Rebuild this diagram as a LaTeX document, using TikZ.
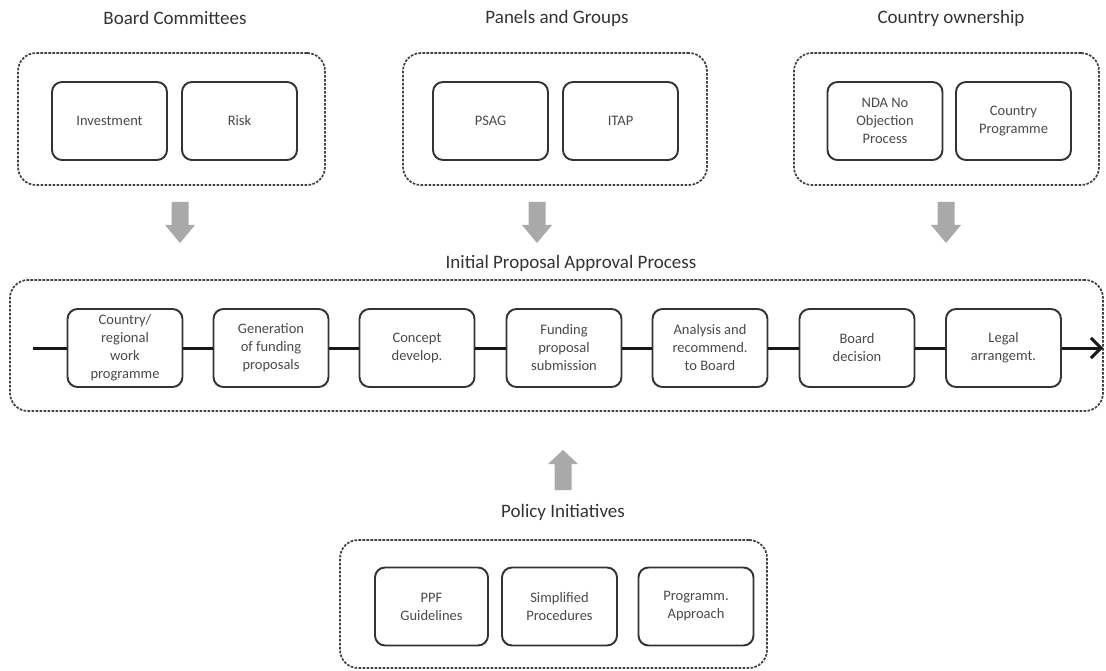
\documentclass[tikz,border=0pt]{standalone}
\usepackage{fontspec}
\setmainfont{Carlito}
\usetikzlibrary{arrows.meta}
\definecolor{arrowgray}{HTML}{A9A9A9}
\definecolor{txt}{HTML}{333333}
\definecolor{itxt}{HTML}{4A4A4A}
\begin{document}
\begin{tikzpicture}[x=1pt,y=-1pt,
  group/.style={draw=black!75, line width=1.7pt, dash pattern=on 2.6pt off 1.4pt, rounded corners=18pt, minimum height=132pt},
  item/.style={draw=black!80, line width=1.9pt, rounded corners=10pt, minimum width=115pt, minimum height=78pt, align=center, font=\fontsize{14.5}{18}\selectfont, text=itxt, fill=white, inner sep=2pt},
  title/.style={font=\fontsize{19}{22}\selectfont, text=txt},
  flowline/.style={line width=3pt, draw=black!90},
  garrowdown/.pic={\fill[arrowgray] (-8.5,0) -- (-8.5,23) -- (-15,23) -- (0,41) -- (15,23) -- (8.5,23) -- (8.5,0) -- cycle;},
  garrowup/.pic={\fill[arrowgray] (-8.5,40) -- (-8.5,14) -- (-15,14) -- (0,0) -- (15,14) -- (8.5,14) -- (8.5,40) -- cycle;}
]
\useasboundingbox (0,0) rectangle (1106,671);

% titles
\node[title] (t1) at (175,18) {Board Committees};
\node[title] (t2) at (557,18) {Panels and Groups};
\node[title] (t3) at (951,18) {Country ownership};
\node[title] (t4) at (571,263) {Initial Proposal Approval Process};
\node[title] (t5) at (563,512) {Policy Initiatives};

% top groups
\node[group, minimum width=307pt] (g1) at (171.5,119) {};
\node[group, minimum width=304pt] (g2) at (555,119) {};
\node[group, minimum width=305pt] (g3) at (946.5,119) {};
\node[item] (inv) at (109.5,121) {Investment};
\node[item] (risk) at (239.5,121) {Risk};
\node[item] (psag) at (490.5,121) {PSAG};
\node[item] (itap) at (620.5,121) {ITAP};
\node[item] (nda) at (885,121) {NDA No\\Objection\\Process};
\node[item] (cp) at (1013.5,121) {Country\\Programme};

% down arrows
\pic at (180,202) {garrowdown};
\pic at (537,202) {garrowdown};
\pic at (946,202) {garrowdown};

% main process
\node[group, minimum width=1093pt, minimum height=131pt] (gm) at (556.5,345.5) {};
\node[item] (p1) at (125,348) {Country/\\regional\\work\\programme};
\node[item] (p2) at (271,348) {Generation\\of funding\\proposals};
\node[item] (p3) at (417,348) {Concept\\develop.};
\node[item] (p4) at (564,348) {Funding\\proposal\\submission};
\node[item] (p5) at (710,348) {Analysis and\\recommend.\\to Board};
\node[item] (p6) at (857,348) {Board\\decision};
\node[item] (p7) at (1003.5,348) {Legal\\arrangemt.};
\coordinate (fs) at (33,348);
\coordinate (fe) at (1103,348);
\draw[flowline] (fs) -- (p1);
\draw[flowline] (p1) -- (p2);
\draw[flowline] (p2) -- (p3);
\draw[flowline] (p3) -- (p4);
\draw[flowline] (p4) -- (p5);
\draw[flowline] (p5) -- (p6);
\draw[flowline] (p6) -- (p7);
\draw[flowline, -{Straight Barb[length=10pt,width=20pt,line width=3pt]}] (p7) -- (fe);

% up arrow
\pic at (563,450) {garrowup};

% policy group
\node[group, minimum width=427pt, minimum height=128pt] (gp) at (553.5,604) {};
\node[item, minimum width=113pt] (ppf) at (431.5,606.5) {PPF\\Guidelines};
\node[item] (simp) at (559.5,606.5) {Simplified\\Procedures};
\node[item] (prog) at (696,606.5) {Programm.\\Approach};
\end{tikzpicture}
\end{document}
